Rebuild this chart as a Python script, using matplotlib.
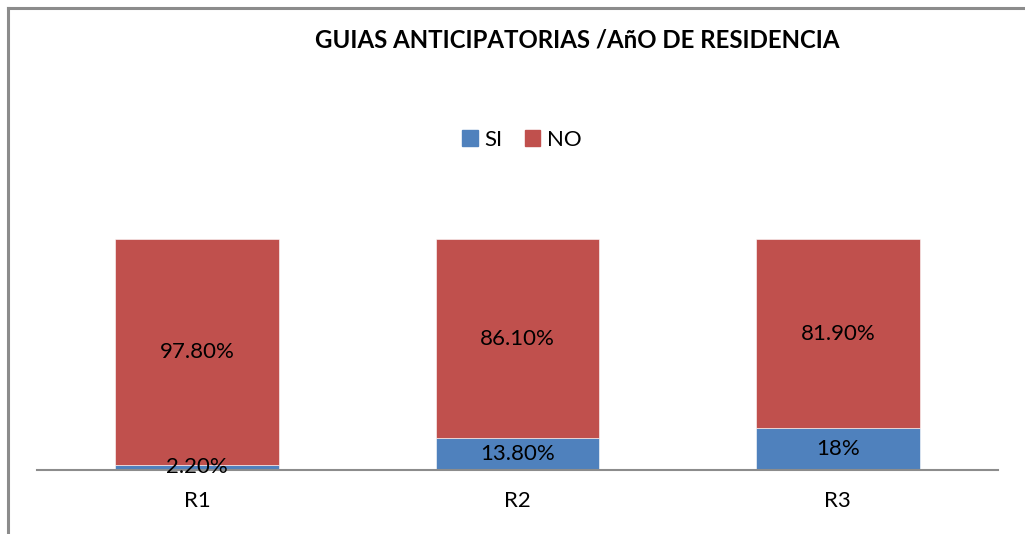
import matplotlib.pyplot as plt
from matplotlib.lines import Line2D
from matplotlib.patches import Patch

categories = ['R1', 'R2', 'R3']
si = [2.2, 13.8, 18.0]
no = [97.8, 86.1, 81.9]
si_labels = ['2.20%', '13.80%', '18%']
no_labels = ['97.80%', '86.10%', '81.90%']

blue = '#4F81BD'
red = '#C0504D'
font = 'Lato'

W, H = 1025, 534
fig = plt.figure(figsize=(W / 100, H / 100), dpi=100)

# chart frame (only top and left edges visible)
fig.add_artist(Line2D([7.5 / W, 7.5 / W], [0, 1 - 7.5 / H], color='#8c8c8c', lw=2.2))
fig.add_artist(Line2D([7.5 / W, 1], [1 - 7.5 / H, 1 - 7.5 / H], color='#8c8c8c', lw=2.2))

ax = fig.add_axes([37 / W, (H - 470) / H, 961 / W, 231 / H])
x = range(len(categories))
ax.bar(x, si, width=0.51, color=blue, edgecolor='white', linewidth=0.4)
ax.bar(x, no, width=0.51, bottom=si, color=red, edgecolor='white', linewidth=0.4)

for i in x:
    ax.text(i, si[i] / 2, si_labels[i], ha='center', va='center',
            fontsize=16, family=font)
    ax.text(i, si[i] + no[i] / 2, no_labels[i], ha='center', va='center',
            fontsize=16, family=font)

ax.set_xlim(-0.5, 2.5)
ax.set_ylim(0, 100)
ax.set_xticks(list(x))
ax.set_xticklabels(categories, fontsize=16, family=font)
ax.tick_params(axis='x', length=0, pad=15)
ax.set_yticks([])
for s in ['top', 'right', 'left']:
    ax.spines[s].set_visible(False)
ax.spines['bottom'].set_color('#8c8c8c')
ax.spines['bottom'].set_linewidth(1.5)

fig.text(577 / W, 1 - 40 / H, 'GUIAS ANTICIPATORIAS /AñO DE RESIDENCIA',
         ha='center', va='center', fontsize=17.3, fontweight='bold', family=font)

handles = [Patch(color=blue, label='SI'), Patch(color=red, label='NO')]
fig.legend(handles=handles, loc='center', bbox_to_anchor=(522 / W, 1 - 140 / H),
           ncol=2, frameon=False, handlelength=0.7, handleheight=0.7,
           handletextpad=0.3, columnspacing=1.0, prop={'family': font, 'size': 16})

fig.savefig('out.png', dpi=100)
